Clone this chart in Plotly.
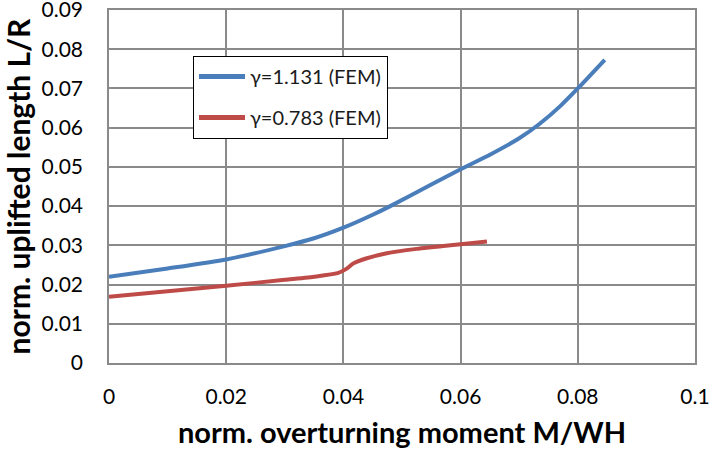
import plotly.graph_objects as go

# Normalized overturning moment M/WH vs normalized uplifted length L/R (FEM results)
gamma_1131_x = [0.0, 0.01, 0.02, 0.03, 0.035, 0.04, 0.045, 0.048, 0.055, 0.06,
                0.065, 0.07, 0.0735, 0.077, 0.08, 0.0846]
gamma_1131_y = [0.0220, 0.0241, 0.0264, 0.0298, 0.0318, 0.0345, 0.0378, 0.0400, 0.0455, 0.0494,
                0.0531, 0.0573, 0.0610, 0.0655, 0.0700, 0.0773]

gamma_0783_x = [0.0, 0.01, 0.02, 0.03, 0.035, 0.039, 0.0405, 0.0417, 0.044, 0.0474,
                0.0525, 0.06, 0.0645]
gamma_0783_y = [0.0169, 0.0183, 0.0197, 0.0212, 0.0220, 0.0229, 0.0240, 0.0254, 0.0267, 0.0280,
                0.0291, 0.0303, 0.0310]

series_names = ["γ=1.131 (FEM)", "γ=0.783 (FEM)"]
x_ticks = [0, 0.02, 0.04, 0.06, 0.08, 0.1]
x_tick_text = ["0", "0.02", "0.04", "0.06", "0.08", "0.1"]
y_ticks = [0, 0.01, 0.02, 0.03, 0.04, 0.05, 0.06, 0.07, 0.08, 0.09]
y_tick_text = ["0", "0.01", "0.02", "0.03", "0.04", "0.05", "0.06", "0.07", "0.08", "0.09"]

FONT = "Lato, Carlito, Calibri, sans-serif"
GRID = "#8a8a8a"

fig = go.Figure()
fig.add_trace(go.Scatter(
    x=gamma_1131_x, y=gamma_1131_y, mode="lines", name=series_names[0],
    legendgroup="a",
    line=dict(color="#4a7ebb", width=4, shape="spline", smoothing=0.6),
))
fig.add_trace(go.Scatter(
    x=gamma_0783_x, y=gamma_0783_y, mode="lines", name=series_names[1],
    legendgroup="b",
    line=dict(color="#be4b48", width=4, shape="spline", smoothing=0.6),
))

fig.update_layout(
    width=711, height=454,
    margin=dict(l=109, r=16, t=10, b=91, autoexpand=False),
    paper_bgcolor="white", plot_bgcolor="white",
    font=dict(family=FONT, color="#000000", size=21),
    showlegend=True,
    legend=dict(
        x=0.143, y=0.87, xanchor="left", yanchor="top",
        bgcolor="white", bordercolor="#000000", borderwidth=1.2,
        font=dict(family=FONT, size=20, color="#1a1a1a"),
        itemwidth=46, tracegroupgap=12, itemsizing="constant",
    ),
    xaxis=dict(
        range=[0, 0.1], tickvals=x_ticks, ticktext=x_tick_text,
        showgrid=True, gridcolor=GRID, gridwidth=1.5,
        showline=True, linecolor=GRID, linewidth=1.5, mirror=True,
        zeroline=False, ticks="", ticklabelstandoff=14,
        ticklabeloverflow="allow", automargin=False,
        tickfont=dict(family=FONT, size=21),
        title=dict(text="<b>norm. overturning moment M/WH</b>",
                   font=dict(family=FONT, size=29), standoff=16),
    ),
    yaxis=dict(
        range=[0, 0.09], tickvals=y_ticks, ticktext=y_tick_text,
        showgrid=True, gridcolor=GRID, gridwidth=1.5,
        showline=True, linecolor=GRID, linewidth=1.5, mirror=True,
        zeroline=False, ticks="", ticklabelstandoff=20,
        ticklabeloverflow="allow", automargin=False,
        tickfont=dict(family=FONT, size=21),
        title=dict(text="<b>norm. uplifted length L/R</b>",
                   font=dict(family=FONT, size=30), standoff=10),
    ),
)

fig.write_html("out.html")
